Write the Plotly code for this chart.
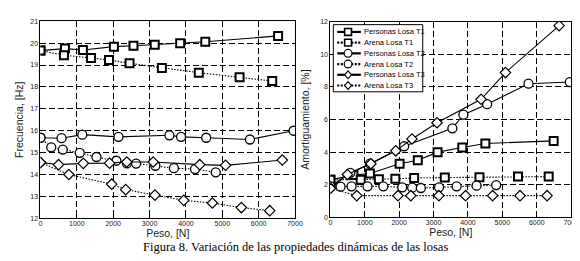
import plotly.graph_objects as go

# ---- Data ----
# Left panel: frequency [Hz]
x_pT1 = [0, 673, 1167, 2020, 2558, 3142, 3842, 4533, 6535]
f_pT1 = [19.66, 19.75, 19.69, 19.84, 19.88, 19.93, 20.0, 20.06, 20.33]
x_aT1 = [0, 646, 1391, 1885, 2450, 3339, 4354, 5476, 6373]
f_aT1 = [19.66, 19.45, 19.32, 19.23, 19.08, 18.87, 18.65, 18.44, 18.27]
x_pT2 = [0, 580, 1150, 2145, 3547, 3867, 4557, 5760, 6960]
f_pT2 = [15.68, 15.66, 15.82, 15.72, 15.79, 15.72, 15.68, 15.60, 16.0]
x_aT2 = [0, 296, 615, 1080, 1540, 2088, 2379, 2630, 3160, 3670, 4250, 4820]
f_aT2 = [15.68, 15.24, 15.14, 14.99, 14.80, 14.63, 14.51, 14.50, 14.40, 14.29, 14.25, 14.10]
x_pT3 = [0, 496, 1178, 1900, 2373, 3100, 4381, 5090, 6650]
f_pT3 = [14.55, 14.45, 14.51, 14.52, 14.57, 14.57, 14.45, 14.42, 14.66]
x_aT3 = [0, 780, 1960, 2345, 3148, 3940, 4728, 5525, 6305]
f_aT3 = [14.55, 14.0, 13.56, 13.31, 13.06, 12.82, 12.70, 12.49, 12.35]

# Right panel: damping [%]
x_pT1r = [0, 671, 1150, 2013, 2541, 3116, 3835, 4506, 6491]
d_pT1 = [2.30, 2.59, 2.69, 3.29, 3.50, 4.00, 4.28, 4.53, 4.69]
x_aT1r = [0, 882, 1409, 1889, 2435, 3327, 4334, 5455, 6347]
d_aT1 = [2.30, 2.30, 2.34, 2.36, 2.42, 2.44, 2.46, 2.50, 2.50]
d_pT2 = [1.90, 2.73, 3.29, 4.36, 5.46, 6.30, 6.94, 8.20, 8.30]
d_aT2 = [1.90, 1.88, 1.90, 1.90, 1.90, 1.84, 1.82, 1.80, 1.84, 1.90, 1.94, 1.98]
d_pT3 = [1.78, 2.63, 3.29, 4.08, 4.81, 5.80, 7.24, 8.88, 11.76]
x_aT3r = [0, 767, 1965, 2339, 3154, 3931, 4717, 5513, 6299]
d_aT3 = [1.78, 1.33, 1.33, 1.33, 1.33, 1.33, 1.33, 1.33, 1.33]

names = ["Personas Losa T1", "Arena Losa T1", "Personas Losa T2",
         "Arena Losa T2", "Personas Losa T3", "Arena Losa T3"]
symbols = ["square", "square", "circle", "circle", "diamond", "diamond"]
dashes = ["solid", "dot", "solid", "dot", "solid", "dot"]

x_ticks = [0, 1000, 2000, 3000, 4000, 5000, 6000, 7000]

W, H = 580, 261
DOT = "1.5px,1.5px"

fig = go.Figure()


def mk(symbol):
    if symbol == "square":
        return dict(symbol="square", size=8, color="white", line=dict(width=2, color="black"))
    if symbol == "circle":
        return dict(symbol="circle", size=9, color="white", line=dict(width=1.3, color="black"))
    return dict(symbol="diamond", size=8, color="white", line=dict(width=1.2, color="black"))


left = [(x_pT1, f_pT1), (x_aT1, f_aT1), (x_pT2, f_pT2),
        (x_aT2, f_aT2), (x_pT3, f_pT3), (x_aT3, f_aT3)]
right = [(x_pT1r, d_pT1), (x_aT1r, d_aT1), (x_pT2, d_pT2),
         (x_aT2, d_aT2), (x_pT3, d_pT3), (x_aT3r, d_aT3)]

for (x, y), n, s, d in zip(left, names, symbols, dashes):
    fig.add_trace(go.Scatter(x=x, y=y, mode="lines+markers", name=n, showlegend=False,
                             line=dict(color="black", width=1.1, dash="solid" if d == "solid" else DOT),
                             marker=mk(s), xaxis="x", yaxis="y"))
for (x, y), n, s, d in zip(right, names, symbols, dashes):
    fig.add_trace(go.Scatter(x=x, y=y, mode="lines+markers", name=n, showlegend=False,
                             line=dict(color="black", width=1.1, dash="solid" if d == "solid" else DOT),
                             marker=mk(s), xaxis="x2", yaxis="y2"))

axfont = dict(family="Liberation Sans, Arial", size=7, color="#222")
titlefont = dict(family="Liberation Sans, Arial", size=10.5, color="#222")

common = dict(showline=True, mirror=True, linecolor="black", linewidth=1,
              showgrid=True, gridcolor="black", griddash="6px,3px", gridwidth=1,
              ticks="inside", ticklen=3, tickcolor="black", tickfont=axfont,
              zeroline=False)


def px(x):
    return x / W


def py(y):
    return (H - y) / H


# ---- Manual compact legend (inside right panel, top-left) ----
shapes = [dict(type="rect", xref="paper", yref="paper", x0=px(329), x1=px(420),
               y0=py(82), y1=py(13), fillcolor="white", line=dict(color="black", width=1),
               layer="above")]
annotations = []
row_y = [20.5, 31.5, 42.5, 53.5, 64.5, 75.5]
mx = 344
for n, s, d, ry in zip(names, symbols, dashes, row_y):
    shapes.append(dict(type="line", xref="paper", yref="paper", x0=px(333), x1=px(357),
                       y0=py(ry), y1=py(ry), layer="above",
                       line=dict(color="black", width=2.2, dash="solid" if d == "solid" else "2px,1.5px")))
    if s == "square":
        shapes.append(dict(type="rect", xref="paper", yref="paper", x0=px(mx - 3.5), x1=px(mx + 3.5),
                           y0=py(ry + 3.5), y1=py(ry - 3.5), fillcolor="white", layer="above",
                           line=dict(color="black", width=1.6)))
    elif s == "circle":
        shapes.append(dict(type="circle", xref="paper", yref="paper", x0=px(mx - 4), x1=px(mx + 4),
                           y0=py(ry + 4), y1=py(ry - 4), fillcolor="white", layer="above",
                           line=dict(color="black", width=1.2)))
    else:
        path = "M {a},{b} L {c},{d} L {a},{e} L {f},{d} Z".format(
            a=px(mx), b=py(ry - 4), c=px(mx + 3.5), d=py(ry), e=py(ry + 4), f=px(mx - 3.5))
        shapes.append(dict(type="path", xref="paper", yref="paper", path=path, fillcolor="white",
                           layer="above", line=dict(color="black", width=1.1)))
    annotations.append(dict(text=n, x=px(358), y=py(ry), xref="paper", yref="paper",
                            xanchor="left", yanchor="middle", showarrow=False,
                            font=dict(family="Liberation Sans, Arial", size=7.5, color="black")))

annotations.append(dict(text="Figura 8. Variación de las propiedades dinámicas de las losas",
                        x=px(291), y=py(250.5), xref="paper", yref="paper", showarrow=False,
                        font=dict(family="Liberation Serif, Times New Roman", size=12.5, color="black")))

fig.update_layout(
    width=W, height=H, margin=dict(l=0, r=0, t=0, b=0),
    paper_bgcolor="white", plot_bgcolor="white", showlegend=False,
    xaxis=dict(domain=[px(31), px(290)], range=[0, 7000], tickvals=x_ticks, ticklabelstandoff=-2,
               title=dict(text="Peso, [N]", font=titlefont, standoff=0), anchor="y", **common),
    yaxis=dict(domain=[py(212), py(9.5)], range=[12, 21], dtick=1,
               title=dict(text="Frecuencia, [Hz]", font=titlefont, standoff=4), anchor="x", **common),
    xaxis2=dict(domain=[px(326), px(571)], range=[0, 7000], tickvals=x_ticks, ticklabelstandoff=-2,
                title=dict(text="Peso, [N]", font=titlefont, standoff=0), anchor="y2", **common),
    yaxis2=dict(domain=[py(211), py(10)], range=[0, 12], dtick=2,
                title=dict(text="Amortiguamiento, [%]", font=titlefont, standoff=8), anchor="x2", **common),
    shapes=shapes,
    annotations=annotations,
)

fig.write_html("out.html")
